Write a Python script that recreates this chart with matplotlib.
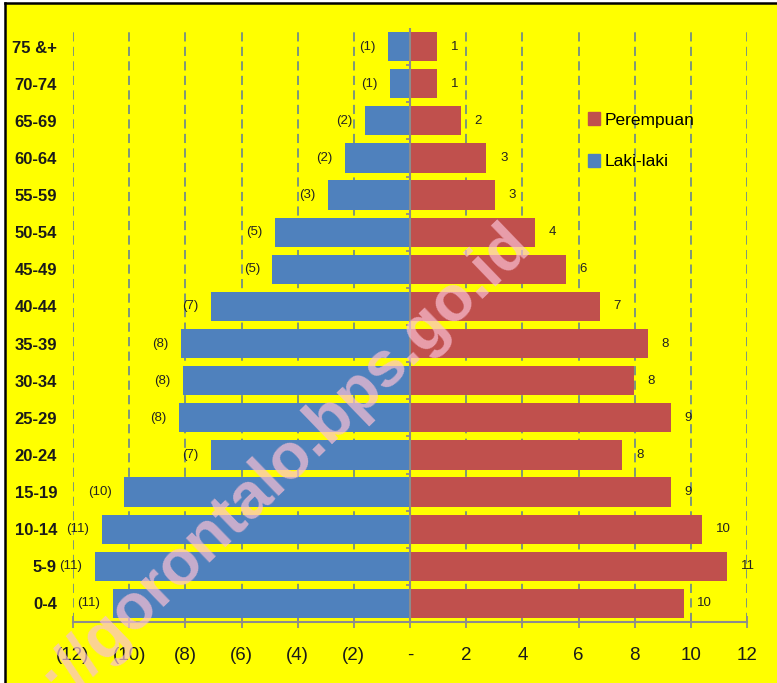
import matplotlib
matplotlib.use('Agg')
import matplotlib.pyplot as plt
from matplotlib.patches import Rectangle
from matplotlib.lines import Line2D
from matplotlib.ticker import FuncFormatter

plt.rcParams['font.family'] = ['Liberation Sans', 'DejaVu Sans']

# kelompok umur, dari bawah ke atas
kelompok_umur = ['0-4', '5-9', '10-14', '15-19', '20-24', '25-29', '30-34', '35-39',
                 '40-44', '45-49', '50-54', '55-59', '60-64', '65-69', '70-74', '75 &+']
laki = [10.58, 11.23, 10.97, 10.18, 7.09, 8.23, 8.09, 8.15,
        7.09, 4.90, 4.80, 2.92, 2.31, 1.60, 0.71, 0.77]
perempuan = [9.74, 11.29, 10.39, 9.29, 7.56, 9.29, 7.97, 8.47,
             6.76, 5.55, 4.46, 3.01, 2.72, 1.81, 0.97, 0.97]

W, H = 777, 683
kuning = '#FFFF00'
biru = '#4F81BD'
merah = '#C0504D'
abu = '#8C8C8C'

fig = plt.figure(figsize=(W / 100, H / 100), dpi=100)
fig.patch.set_facecolor(kuning)
ax = fig.add_axes([73 / W, 1 - 622 / H, 674 / W, 594 / H])
ax.set_facecolor(kuning)

y = list(range(len(kelompok_umur)))
ax.barh(y, [-v for v in laki], height=0.79, color=biru, zorder=2)
ax.barh(y, perempuan, height=0.79, color=merah, zorder=2)

for i, v in enumerate(laki):
    ax.annotate('(%.0f)' % v, xy=(-v, i), xytext=(-9, 0), textcoords='offset points',
                ha='right', va='center', fontsize=9.5, color='#222222')
for i, v in enumerate(perempuan):
    ax.annotate('%.0f' % v, xy=(v, i), xytext=(10, 0), textcoords='offset points',
                ha='left', va='center', fontsize=9.5, color='#222222')

ax.set_xlim(-12, 12)
ax.set_ylim(-0.5, len(kelompok_umur) - 0.5)
ax.set_xticks(range(-12, 13, 2))


def fmt(x, pos):
    if x < 0:
        return '(%d)' % abs(x)
    if x == 0:
        return '-'
    return '%d' % x


ax.xaxis.set_major_formatter(FuncFormatter(fmt))
ax.set_yticks(y)
ax.set_yticklabels(kelompok_umur, fontweight='bold')

ax.grid(axis='x', color='#5A7B9C', linestyle=(0, (6, 3.5)), linewidth=1.1)
ax.set_axisbelow(True)
for s in ['top', 'right', 'left']:
    ax.spines[s].set_visible(False)
ax.spines['bottom'].set_color(abu)
ax.spines['bottom'].set_linewidth(1.5)
ax.tick_params(axis='x', direction='inout', length=9, width=1.3, color=abu,
               pad=13.5, labelsize=13.5, labelcolor='#1a1a1a')
ax.tick_params(axis='y', length=0, pad=11.5, labelsize=12, labelcolor='#1a1a1a')

# sumbu tengah
ax.axvline(0, color=abu, lw=1.5, zorder=3)
ax.hlines([i + 0.5 for i in y[:-1]], -0.14, 0, color=abu, lw=1.3, zorder=3)

handles = [Rectangle((0, 0), 1, 1, color=merah), Rectangle((0, 0), 1, 1, color=biru)]
fig.legend(handles, ['Perempuan', 'Laki-laki'], loc='upper left',
           bbox_to_anchor=(588 / W, 1 - 112 / H), frameon=False, fontsize=12.5,
           handlelength=0.7, handleheight=0.8, handletextpad=0.25,
           labelspacing=1.5, borderpad=0, borderaxespad=0)

# bingkai
fig.add_artist(Rectangle((0, 0), 4 / W, 1, transform=fig.transFigure, color='white', zorder=20))
fig.add_artist(Rectangle((0, 1 - 2 / H), 1, 2 / H, transform=fig.transFigure, color='white', zorder=20))
fig.add_artist(Line2D([5 / W, 5 / W], [0, 1 - 3 / H], transform=fig.transFigure, color='black', lw=1.8, zorder=21))
fig.add_artist(Line2D([5 / W, 1], [1 - 3 / H, 1 - 3 / H], transform=fig.transFigure, color='black', lw=1.8, zorder=21))

# watermark
fig.text(-24 / W, 1 - 784 / H, 'http://gorontalo.bps.go.id', rotation=44, rotation_mode='anchor',
         ha='left', va='baseline', fontsize=46, fontweight='bold',
         family=['Liberation Sans', 'DejaVu Sans'], color='#FAC0D3', alpha=0.7, zorder=10)

fig.savefig('out.png', dpi=100, facecolor=fig.get_facecolor())
